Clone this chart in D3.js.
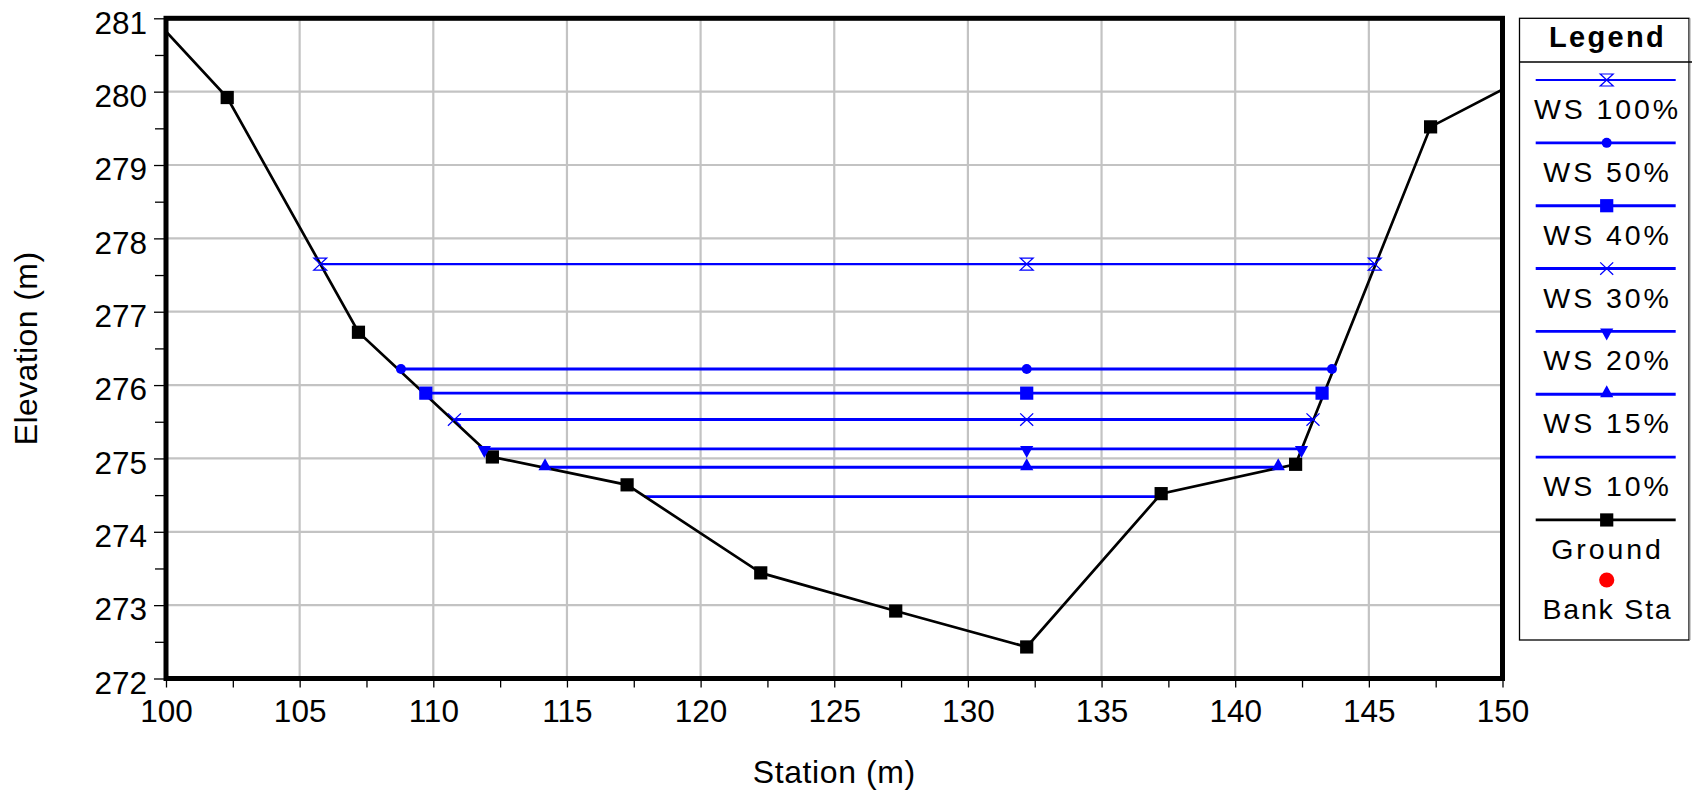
<!DOCTYPE html>
<html><head><meta charset="utf-8">
<script src="https://cdn.jsdelivr.net/npm/d3@7"></script>
<style>
body{margin:0;background:#fff;}
svg{display:block;}
text{font-family:"Liberation Sans", Arial, sans-serif;fill:#000;}
</style></head><body>
<svg id="chart" width="1695" height="796"></svg>
<script>
// ---- data ----
const groundStation   = [97.5, 102.29, 107.2, 112.21, 117.25, 122.25, 127.3, 132.2, 137.23, 142.26, 147.31, 152.7];
const groundElevation = [281.8, 279.92, 276.72, 275.02, 274.64, 273.44, 272.92, 272.43, 274.52, 274.92, 279.52, 280.54];
const wsNames        = ["WS 100%", "WS 50%", "WS 40%", "WS 30%", "WS 20%", "WS 15%", "WS 10%"];
const wsElevation    = [277.65, 276.22, 275.89, 275.53, 275.13, 274.88, 274.48];
const wsLeftStation  = [105.77, 108.79, 109.72, 110.79, 111.91, 114.18, 117.89];
const wsRightStation = [145.22, 143.62, 143.25, 142.91, 142.48, 141.61, 137.21];
const wsMidStation   = 132.2;
const wsMarkers      = ["hourglass", "circle", "square", "cross", "triDown", "triUp", "none"];
const xTicks = [100, 105, 110, 115, 120, 125, 130, 135, 140, 145, 150];
const xMinorTicks = [102.5, 107.5, 112.5, 117.5, 122.5, 127.5, 132.5, 137.5, 142.5, 147.5];
const yTicks = [272, 273, 274, 275, 276, 277, 278, 279, 280, 281];
const yMinorTicks = [272.5, 273.5, 274.5, 275.5, 276.5, 277.5, 278.5, 279.5, 280.5];
const legendTitle = "Legend";
const xTitle = "Station (m)";
const yTitle = "Elevation (m)";

const BLUE = "#0000ff";
const svg = d3.select("#chart");
const L = 166, R = 1502.5, T = 18.3, B = 678.5;
const x = d3.scaleLinear().domain([100, 150]).range([L, R]);
const y = d3.scaleLinear().domain([272, 281]).range([B, T]);

svg.append("defs").append("clipPath").attr("id", "plotclip")
  .append("rect").attr("x", L).attr("y", T).attr("width", R - L).attr("height", B - T);

// grid
const grid = svg.append("g");
grid.selectAll("line.v").data(xTicks).join("line")
  .attr("x1", d => x(d)).attr("x2", d => x(d)).attr("y1", T).attr("y2", B)
  .attr("stroke", "#c3c3c3").attr("stroke-width", 2.2);
grid.selectAll("line.h").data(yTicks).join("line")
  .attr("y1", d => y(d)).attr("y2", d => y(d)).attr("x1", L).attr("x2", R)
  .attr("stroke", "#c3c3c3").attr("stroke-width", 2.2);

// marker drawing
function marker(g, type, cx, cy, color) {
  if (type === "none") return;
  if (type === "circle") {
    g.append("circle").attr("cx", cx).attr("cy", cy).attr("r", 5).attr("fill", color);
  } else if (type === "square") {
    g.append("rect").attr("x", cx - 6.6).attr("y", cy - 6.6).attr("width", 13.2).attr("height", 13.2).attr("fill", color);
  } else if (type === "hourglass") {
    g.append("path").attr("d", `M${cx-6.5},${cy-6} L${cx+6.5},${cy-6} L${cx-6.5},${cy+6} L${cx+6.5},${cy+6} Z`)
      .attr("fill", "none").attr("stroke", color).attr("stroke-width", 1.2);
  } else if (type === "cross") {
    g.append("path").attr("d", `M${cx-6.5},${cy-6.2} L${cx+6.5},${cy+6.2} M${cx-6.5},${cy+6.2} L${cx+6.5},${cy-6.2}`)
      .attr("fill", "none").attr("stroke", color).attr("stroke-width", 1.3);
  } else if (type === "triDown") {
    g.append("path").attr("d", `M${cx-6.6},${cy-3} L${cx+6.6},${cy-3} L${cx},${cy+9} Z`).attr("fill", color);
  } else if (type === "triUp") {
    g.append("path").attr("d", `M${cx-6.6},${cy+3} L${cx+6.6},${cy+3} L${cx},${cy-9} Z`).attr("fill", color);
  }
}

const plot = svg.append("g").attr("clip-path", "url(#plotclip)");

// water surfaces
wsNames.forEach((name, i) => {
  const pts = [[wsLeftStation[i], wsElevation[i]], [wsMidStation, wsElevation[i]], [wsRightStation[i], wsElevation[i]]];
  plot.append("path")
    .attr("d", d3.line().x(d => x(d[0])).y(d => y(d[1]))(pts))
    .attr("fill", "none").attr("stroke", BLUE).attr("stroke-width", i === 0 ? 2.2 : 2.9);
});

// ground
const groundPts = groundStation.map((s, i) => [s, groundElevation[i]]);
plot.append("path")
  .attr("d", d3.line().x(d => x(d[0])).y(d => y(d[1]))(groundPts))
  .attr("fill", "none").attr("stroke", "#000").attr("stroke-width", 2.7);
groundPts.forEach(p => marker(plot, "square", x(p[0]), y(p[1]), "#000"));

// ws markers (drawn above ground)
wsNames.forEach((name, i) => {
  [wsLeftStation[i], wsMidStation, wsRightStation[i]].forEach(s => marker(plot, wsMarkers[i], x(s), y(wsElevation[i]), BLUE));
});

// axes
const yAxis = svg.append("g").attr("transform", `translate(${L},0)`)
  .call(d3.axisLeft(y).tickValues(yTicks).tickSize(12).tickPadding(7).tickFormat(d3.format("d")));
yAxis.select(".domain").remove();
yAxis.selectAll("text").attr("dy", "0.47em").style("font-size", "31.5px").style("font-family", '"Liberation Sans", Arial, sans-serif');
yAxis.selectAll("line").attr("stroke", "#000").attr("stroke-width", 1.3);
const yMinor = svg.append("g").attr("transform", `translate(${L},0)`)
  .call(d3.axisLeft(y).tickValues(yMinorTicks).tickSize(11).tickFormat(""));
yMinor.select(".domain").remove();
yMinor.selectAll("line").attr("stroke", "#000").attr("stroke-width", 1.3);

const xAxis = svg.append("g").attr("transform", `translate(0,${B})`)
  .call(d3.axisBottom(x).tickValues(xTicks).tickSize(9).tickPadding(12).tickFormat(d3.format("d")));
xAxis.select(".domain").remove();
xAxis.selectAll("text").style("font-size", "31.5px").style("font-family", '"Liberation Sans", Arial, sans-serif');
xAxis.selectAll("line").attr("stroke", "#000").attr("stroke-width", 1.3);
const xMinor = svg.append("g").attr("transform", `translate(0,${B})`)
  .call(d3.axisBottom(x).tickValues(xMinorTicks).tickSize(9).tickFormat(""));
xMinor.select(".domain").remove();
xMinor.selectAll("line").attr("stroke", "#000").attr("stroke-width", 1.3);

// frame
svg.append("rect").attr("x", L).attr("y", T).attr("width", R - L).attr("height", B - T)
  .attr("fill", "none").attr("stroke", "#000").attr("stroke-width", 5);

// titles
svg.append("text").attr("x", (L + R) / 2).attr("y", 783.3).attr("text-anchor", "middle")
  .style("font-size", "32px").attr("letter-spacing", 0.6).text(xTitle);
svg.append("text").attr("transform", `translate(36.5,${(T + B) / 2}) rotate(-90)`).attr("text-anchor", "middle")
  .style("font-size", "32px").attr("letter-spacing", 0.4).text(yTitle);

// legend
const lg = svg.append("g");
const LX0 = 1519.5, LX1 = 1689, LT = 18.3, LB = 640, LC = 1606;
lg.append("rect").attr("x", LX0).attr("y", LT).attr("width", LX1 - LX0).attr("height", LB - LT)
  .attr("fill", "#fff").attr("stroke", "#000").attr("stroke-width", 1.3);
lg.append("line").attr("x1", LX1 + 0.9).attr("x2", LX1 + 0.9).attr("y1", LT).attr("y2", LB)
  .attr("stroke", "#999").attr("stroke-width", 1.2);
lg.append("line").attr("x1", LX0).attr("x2", 1692).attr("y1", 62).attr("y2", 62).attr("stroke", "#000").attr("stroke-width", 1.3);
lg.append("text").attr("x", LC + 1.5).attr("y", 46.7).attr("text-anchor", "middle")
  .style("font-size", "29px").style("font-weight", "bold").attr("letter-spacing", 2.3).text(legendTitle);

const legendNames = wsNames.concat(["Ground"]);
const legendStep = 62.85, legendFirst = 80;
legendNames.forEach((name, i) => {
  const ly = legendFirst + i * legendStep;
  const isGround = i === wsNames.length;
  const col = isGround ? "#000" : BLUE;
  lg.append("line").attr("x1", 1535.7).attr("x2", 1675.7).attr("y1", ly).attr("y2", ly)
    .attr("stroke", col).attr("stroke-width", isGround ? 2.7 : (i === 0 ? 2.2 : 2.9));
  marker(lg, isGround ? "square" : wsMarkers[i], LC + 0.7, ly, col);
  lg.append("text").attr("x", LC + 1.5).attr("y", ly + 39).attr("text-anchor", "middle")
    .style("font-size", "28.5px").attr("letter-spacing", 2.9).text(name);
});
// Bank Sta
lg.append("circle").attr("cx", LC + 0.7).attr("cy", 580).attr("r", 7.6).attr("fill", "#ff0000");
lg.append("text").attr("x", LC + 1.5).attr("y", 619.3).attr("text-anchor", "middle")
  .style("font-size", "28.5px").attr("letter-spacing", 1.8).text("Bank Sta");
</script>
</body></html>
